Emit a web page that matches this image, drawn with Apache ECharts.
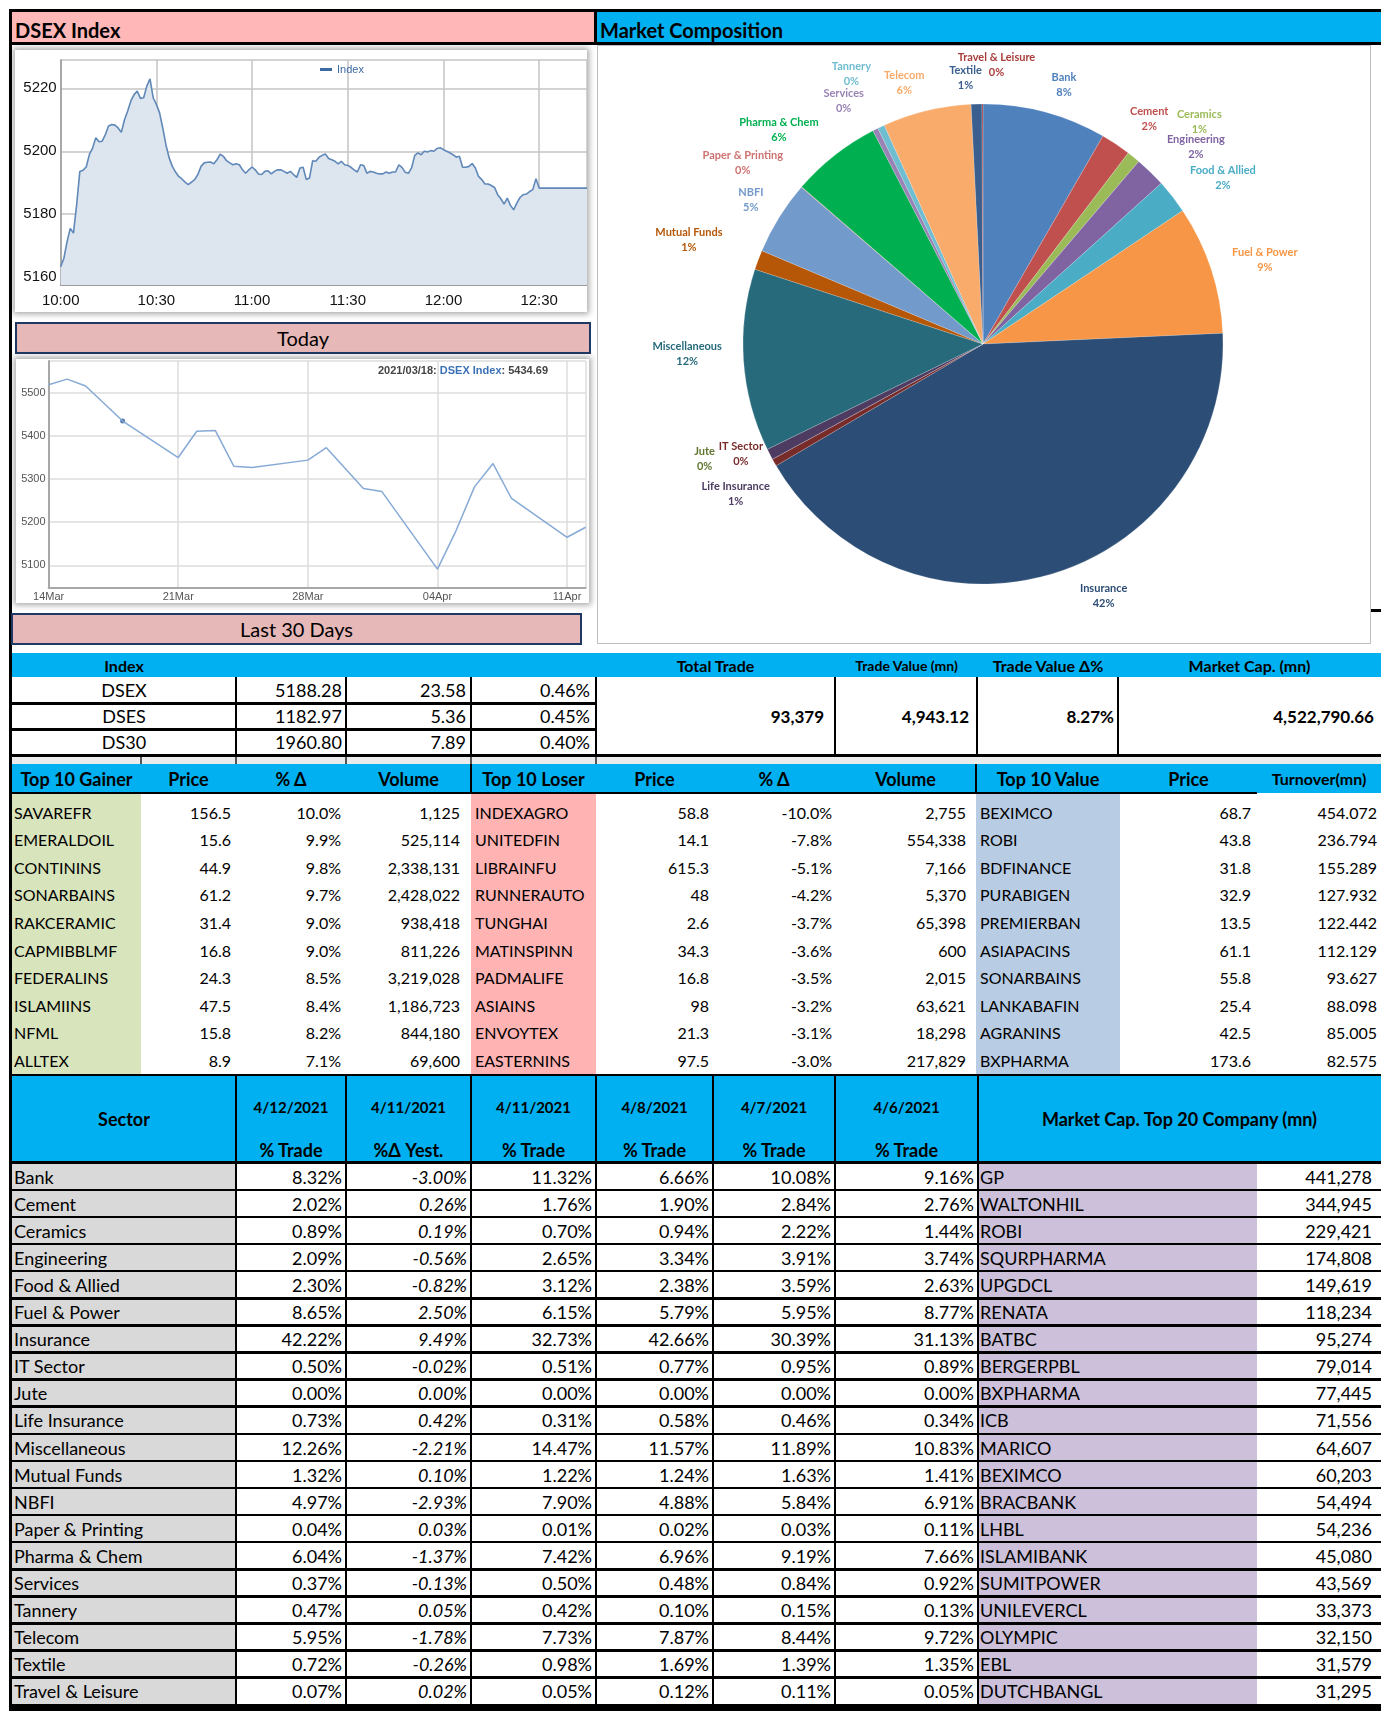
<!DOCTYPE html>
<html><head><meta charset="utf-8">
<script src="https://cdn.jsdelivr.net/npm/echarts@6/dist/echarts.min.js"></script>
<style>
html,body{margin:0;padding:0;background:#fff;}
body{width:1381px;height:1732px;position:relative;overflow:hidden;font-family:Lato,'Noto Sans',sans-serif;color:#000;}
.a{position:absolute;box-sizing:border-box;}
</style></head><body>
<script>
// ---------------- DATA ----------------
const intradayTimes = ["10:00","10:01","10:02","10:03","10:04","10:05","10:06","10:07","10:08","10:09",
"10:10","10:11","10:12","10:13","10:14","10:15","10:16","10:17","10:18","10:19",
"10:20","10:21","10:22","10:23","10:24","10:25","10:26","10:27","10:28","10:29",
"10:30","10:31","10:32","10:33","10:34","10:35","10:36","10:37","10:38","10:39",
"10:40","10:41","10:42","10:43","10:44","10:45","10:46","10:47","10:48","10:49",
"10:50","10:51","10:52","10:53","10:54","10:55","10:56","10:57","10:58","10:59",
"11:00","11:01","11:02","11:03","11:04","11:05","11:06","11:07","11:08","11:09",
"11:10","11:11","11:12","11:13","11:14","11:15","11:16","11:17","11:18","11:19",
"11:20","11:21","11:22","11:23","11:24","11:25","11:26","11:27","11:28","11:29",
"11:30","11:31","11:32","11:33","11:34","11:35","11:36","11:37","11:38","11:39",
"11:40","11:41","11:42","11:43","11:44","11:45","11:46","11:47","11:48","11:49",
"11:50","11:51","11:52","11:53","11:54","11:55","11:56","11:57","11:58","11:59",
"12:00","12:01","12:02","12:03","12:04","12:05","12:06","12:07","12:08","12:09",
"12:10","12:11","12:12","12:13","12:14","12:15","12:16","12:17","12:18","12:19",
"12:20","12:21","12:22","12:23","12:24","12:25","12:26","12:27","12:28","12:29",
"12:30","12:45"];
const intradayValues = [5163.3,5166,5171.3,5175.5,5174,5183,5193.6,5194,5195,5199,
5201,5204.3,5203,5203.2,5205.3,5208,5208.5,5208.3,5207.4,5206,
5210,5212.8,5216,5218,5219.1,5216.8,5217,5220.7,5223,5217,
5214.9,5212.2,5207.4,5202,5197.9,5195.2,5193.4,5192,5191.2,5190.2,
5189.4,5190.2,5191,5192.6,5195.2,5196.3,5196.5,5196.6,5196,5197.3,
5199.1,5198.4,5197,5196.3,5195.7,5196,5195.7,5194.1,5193,5194.1,
5195,5194.1,5192.8,5192.6,5193.6,5193.8,5192.8,5193.6,5194.1,5194.1,
5193.6,5193,5193.6,5192.6,5191.7,5194.7,5194.9,5191,5191.5,5197,
5196.8,5198.1,5198.7,5199.1,5197.7,5197.3,5196.8,5196,5196.8,5195.7,
5195.5,5194.9,5194.1,5193.4,5195.7,5195.5,5193,5193.6,5193.4,5193,
5192.8,5192.8,5193.4,5193,5193.4,5193.4,5195.7,5194.9,5193.3,5193,
5194.7,5198.7,5199.5,5198.9,5200,5199.8,5200.2,5200,5200.9,5201.1,
5200.5,5200,5199.5,5198.9,5198.1,5198.4,5194.9,5194.9,5195.2,5196.1,
5194.7,5192,5191,5189.6,5189.6,5189.1,5188.5,5186.2,5184.9,5183.2,
5185.1,5182.8,5181.4,5183.5,5185.3,5186.2,5186.4,5187.2,5187.8,5191.3,
5188.3,5188.3];
const intradayTickLabels = ["10:00","10:30","11:00","11:30","12:00","12:30"];

const monthDates = ["2021-03-14","2021-03-15","2021-03-16","2021-03-18","2021-03-21","2021-03-22","2021-03-23","2021-03-24","2021-03-25","2021-03-28","2021-03-29","2021-03-31","2021-04-01","2021-04-04","2021-04-05","2021-04-06","2021-04-07","2021-04-08","2021-04-11","2021-04-12"];
const monthValues = [5519,5532,5516,5434.69,5350,5411,5413,5330,5327,5344,5373,5278,5271,5091,5180,5282,5336,5255,5165,5188.28];
const monthTickLabels = ["14Mar","21Mar","28Mar","04Apr","11Apr"];
const monthHighlightIndex = 3;

const sectors = ["Bank","Cement","Ceramics","Engineering","Food & Allied","Fuel & Power","Insurance","IT Sector","Jute","Life Insurance","Miscellaneous","Mutual Funds","NBFI","Paper & Printing","Pharma & Chem","Services","Tannery","Telecom","Textile","Travel & Leisure"];
const trade0412 = [8.32,2.02,0.89,2.09,2.30,8.65,42.22,0.50,0.00,0.73,12.26,1.32,4.97,0.04,6.04,0.37,0.47,5.95,0.72,0.07];
const chgYest   = [-3.00,0.26,0.19,-0.56,-0.82,2.50,9.49,-0.02,0.00,0.42,-2.21,0.10,-2.93,0.03,-1.37,-0.13,0.05,-1.78,-0.26,0.02];
const trade0411 = [11.32,1.76,0.70,2.65,3.12,6.15,32.73,0.51,0.00,0.31,14.47,1.22,7.90,0.01,7.42,0.50,0.42,7.73,0.98,0.05];
const trade0408 = [6.66,1.90,0.94,3.34,2.38,5.79,42.66,0.77,0.00,0.58,11.57,1.24,4.88,0.02,6.96,0.48,0.10,7.87,1.69,0.12];
const trade0407 = [10.08,2.84,2.22,3.91,3.59,5.95,30.39,0.95,0.00,0.46,11.89,1.63,5.84,0.03,9.19,0.84,0.15,8.44,1.39,0.11];
const trade0406 = [9.16,2.76,1.44,3.74,2.63,8.77,31.13,0.89,0.00,0.34,10.83,1.41,6.91,0.11,7.66,0.92,0.13,9.72,1.35,0.05];
const sectorDates = ["4/12/2021","4/11/2021","4/11/2021","4/8/2021","4/7/2021","4/6/2021"];
const sectorSubHeads = ["% Trade","%\u0394 Yest.","% Trade","% Trade","% Trade","% Trade"];

const topCompanies = ["GP","WALTONHIL","ROBI","SQURPHARMA","UPGDCL","RENATA","BATBC","BERGERPBL","BXPHARMA","ICB","MARICO","BEXIMCO","BRACBANK","LHBL","ISLAMIBANK","SUMITPOWER","UNILEVERCL","OLYMPIC","EBL","DUTCHBANGL"];
const topCaps = [441278,344945,229421,174808,149619,118234,95274,79014,77445,71556,64607,60203,54494,54236,45080,43569,33373,32150,31579,31295];

const indexNames = ["DSEX","DSES","DS30"];
const indexValues = [5188.28,1182.97,1960.80];
const indexChanges = [23.58,5.36,7.89];
const indexChangePct = [0.46,0.45,0.40];
const totalTrade = 93379, tradeValue = 4943.12, tradeValueChg = 8.27, marketCap = 4522790.66;

const gainerNames = ["SAVAREFR","EMERALDOIL","CONTININS","SONARBAINS","RAKCERAMIC","CAPMIBBLMF","FEDERALINS","ISLAMIINS","NFML","ALLTEX"];
const gainerPrices = [156.5,15.6,44.9,61.2,31.4,16.8,24.3,47.5,15.8,8.9];
const gainerPct = [10.0,9.9,9.8,9.7,9.0,9.0,8.5,8.4,8.2,7.1];
const gainerVolumes = [1125,525114,2338131,2428022,938418,811226,3219028,1186723,844180,69600];
const loserNames = ["INDEXAGRO","UNITEDFIN","LIBRAINFU","RUNNERAUTO","TUNGHAI","MATINSPINN","PADMALIFE","ASIAINS","ENVOYTEX","EASTERNINS"];
const loserPrices = [58.8,14.1,615.3,48,2.6,34.3,16.8,98,21.3,97.5];
const loserPct = [-10.0,-7.8,-5.1,-4.2,-3.7,-3.6,-3.5,-3.2,-3.1,-3.0];
const loserVolumes = [2755,554338,7166,5370,65398,600,2015,63621,18298,217829];
const valueNames = ["BEXIMCO","ROBI","BDFINANCE","PURABIGEN","PREMIERBAN","ASIAPACINS","SONARBAINS","LANKABAFIN","AGRANINS","BXPHARMA"];
const valuePrices = [68.7,43.8,31.8,32.9,13.5,61.1,55.8,25.4,42.5,173.6];
const valueTurnover = [454.072,236.794,155.289,127.932,122.442,112.129,93.627,88.098,85.005,82.575];

// ---------------- LAYOUT HELPERS ----------------
function el(x,y,w,h,css,html){const d=document.createElement('div');d.className='a';d.style.cssText='left:'+x+'px;top:'+y+'px;width:'+w+'px;height:'+h+'px;'+(css||'');if(html!=null)d.innerHTML=html;document.body.appendChild(d);return d;}
function txt(x0,x1,y0,y1,t,align,css,pad){const p=pad==null?5:pad;const d=el(x0,y0,x1-x0,y1-y0,'display:flex;align-items:center;white-space:nowrap;justify-content:'+(align==='l'?'flex-start':align==='r'?'flex-end':'center')+';padding:0 '+(align==='c'?0:p)+'px;'+(css||''));d.textContent=t;return d;}
const fmtInt = v => v.toLocaleString('en-US');
const fmtPct2 = v => v.toFixed(2)+'%';
const BLUE='#00B0F0';

// ---------------- FRAME / HEADERS ----------------
el(12,12,582,31,'background:#FFB7B7;');
txt(12,594,12,44,'DSEX Index','l','font-weight:700;font-size:20px;align-items:flex-end;padding-bottom:2px;',3);
el(597,12,784,31,'background:'+BLUE+';');
txt(597,1381,12,44,'Market Composition','l','font-weight:700;font-size:20px;align-items:flex-end;padding-bottom:2px;',3);
el(9,9,1372,3,'background:#000;');
el(9,42,1372,3,'background:#000;');
el(594,9,3,36,'background:#000;');
el(9,9,3,1702,'background:#000;z-index:5;');
el(9,1706,1372,5,'background:#000;');

// chart panels
el(15,50,572,262,'background:#fff;box-shadow:0 0 6px 2px rgba(0,0,0,0.35);');
el(15,322,576,32,'background:#E6B8B7;border:2px solid #1F3864;');
txt(15,591,322,354,'Today','c','font-size:20px;');
el(16,359,573,244,'background:#fff;box-shadow:0 0 6px 2px rgba(0,0,0,0.35);');
el(11,613,571,32,'background:#E6B8B7;border:2px solid #1F3864;z-index:6;');
txt(11,582,613,645,'Last 30 Days','c','font-size:20px;z-index:7;');
el(597,45,774,599,'background:#fff;border:1.5px solid #bfbfbf;');
el(1371,609,10,3,'background:#000;');

const cIntra = el(15,50,572,262,'z-index:3;');
const cMonth = el(16,359,573,244,'z-index:3;');
const cPie = el(597,45,774,599,'z-index:3;');

// ---------------- INDEX TABLE ----------------
el(12,653,1369,24,'background:'+BLUE+';');
const hb='font-weight:700;font-size:16px;';
txt(12,236,653,677,'Index','c',hb);
txt(596,835,653,677,'Total Trade','c',hb);
txt(835,978,653,677,'Trade Value (mn)','c','font-weight:700;font-size:14px;');
txt(978,1118,653,677,'Trade Value \u0394%','c',hb);
txt(1118,1381,653,677,'Market Cap. (mn)','c',hb);
const iy=[677,703,729,755];
for(let i=0;i<3;i++){
  const f='font-size:18px;';
  txt(12,236,iy[i],iy[i+1],indexNames[i],'c',f);
  txt(236,346,iy[i],iy[i+1],indexValues[i].toFixed(2),'r',f,4);
  txt(346,471,iy[i],iy[i+1],indexChanges[i].toFixed(2),'r',f,5);
  txt(471,596,iy[i],iy[i+1],indexChangePct[i].toFixed(2)+'%','r',f,6);
}
const sb='font-weight:700;font-size:17px;';
txt(596,835,677,755,fmtInt(totalTrade),'r',sb,11);
txt(835,977,677,755,tradeValue.toLocaleString('en-US',{minimumFractionDigits:2}),'r',sb,8);
txt(977,1118,677,755,tradeValueChg.toFixed(2)+'%','r',sb,4);
txt(1118,1381,677,755,marketCap.toLocaleString('en-US',{minimumFractionDigits:2}),'r',sb,7);
[235,345,470,595].forEach(x=>el(x,677,2,80,'background:#000;'));
[834,976,1117].forEach(x=>el(x,677,2,78,'background:#000;'));
el(12,702,584,3,'background:#000;');
el(12,727.5,584,3,'background:#000;');
el(12,754,1369,3,'background:#000;');
el(12,757,1369,7,'background:#ececec;');
[140,235,345,470,595].forEach(x=>el(x,757,2,7,'background:#555;'));

// ---------------- TOP 10 TABLE ----------------
el(12,764,1369,29,'background:'+BLUE+';');
const tc=[12,141,236,346,471,596,713,835,976,1120,1257,1381];
const th=['Top 10 Gainer','Price','% \u0394','Volume','Top 10 Loser','Price','% \u0394','Volume','Top 10 Value','Price','Turnover(mn)'];
th.forEach((t,i)=>txt(tc[i],tc[i+1],764,793,t,'c','font-weight:700;font-size:'+(i===10?16:18)+'px;'));
el(470,764,2,30,'background:#000;');
el(975,764,2,30,'background:#000;');
el(12,792,1245,2,'background:#000;');
const ry=[794,826];
for(let i=1;i<10;i++) ry.push(826+i*27.6);
el(12,794,129,281,'background:#D8E4BC;');
el(471,794,125,281,'background:#FFB3B3;');
el(976,794,144,281,'background:#B8CCE4;');
for(let i=0;i<10;i++){
  const y0=ry[i]+(i===0?4:0), y1=ry[i+1], f='font-size:16px;';
  txt(tc[0],tc[1],y0,y1,gainerNames[i],'l',f,2);
  txt(tc[1],tc[2],y0,y1,gainerPrices[i].toFixed(1),'r',f,5);
  txt(tc[2],tc[3],y0,y1,gainerPct[i].toFixed(1)+'%','r',f,5);
  txt(tc[3],tc[4],y0,y1,fmtInt(gainerVolumes[i]),'r',f,11);
  txt(tc[4],tc[5],y0,y1,loserNames[i],'l',f,4);
  txt(tc[5],tc[6],y0,y1,String(loserPrices[i]),'r',f,4);
  txt(tc[6],tc[7],y0,y1,loserPct[i].toFixed(1)+'%','r',f,3);
  txt(tc[7],tc[8],y0,y1,fmtInt(loserVolumes[i]),'r',f,10);
  txt(tc[8],tc[9],y0,y1,valueNames[i],'l',f,4);
  txt(tc[9],tc[10],y0,y1,valuePrices[i].toFixed(1),'r',f,6);
  txt(tc[10],tc[11],y0,y1,valueTurnover[i].toFixed(3),'r',f,4);
}

// ---------------- SECTOR TABLE ----------------
el(12,1074,1369,2,'background:#000;');
el(12,1076,1369,86,'background:'+BLUE+';');
const sc=[12,236,346,471,596,713,835,978,1257,1381];
txt(12,236,1076,1162,'Sector','c','font-weight:700;font-size:18px;');
for(let j=0;j<6;j++){
  txt(sc[j+1],sc[j+2],1092,1122,sectorDates[j],'c','font-weight:700;font-size:15px;');
  txt(sc[j+1],sc[j+2],1137,1162,sectorSubHeads[j],'c','font-weight:700;font-size:18px;');
}
txt(978,1381,1076,1162,'Market Cap. Top 20 Company (mn)','c','font-weight:700;font-size:18px;');
[235,345,470,595,712,834,977].forEach(x=>el(x,1076,2,88,'background:#000;'));
el(12,1161,1369,3,'background:#000;');
const RH=27.1;
el(12,1164,224,542,'background:#D9D9D9;');
el(978,1164,279,542,'background:#CCC0DA;');
const cols=[trade0412,chgYest,trade0411,trade0408,trade0407,trade0406];
for(let i=0;i<20;i++){
  const y0=1164+i*RH, y1=y0+RH-2, f='font-size:18px;';
  txt(12,236,y0,y1,sectors[i],'l',f,2);
  for(let j=0;j<6;j++){
    txt(sc[j+1],sc[j+2],y0,y1,fmtPct2(cols[j][i]),'r',f+(j===1?'font-style:italic;':''),4);
  }
  txt(978,1257,y0,y1,topCompanies[i],'l',f,2);
  txt(1257,1381,y0,y1,fmtInt(topCaps[i]),'r',f,9);
  el(12,y0+RH-2.5,1369,2.5,'background:#000;');
}
[235,345,470,595,712,834,977].forEach(x=>el(x,1164,2,542,'background:#000;'));

// ---------------- CHARTS ----------------
const toMin = s => { const p=s.split(':'); return (+p[0])*60+(+p[1]); };
const intraData = intradayTimes.map((t,i)=>[toMin(t), intradayValues[i]]);
const tickMap = {}; intradayTickLabels.forEach(l=>tickMap[toMin(l)]=l);
const chartIntra = echarts.init(cIntra,null,{renderer:'canvas'});
chartIntra.setOption({
  animation:false,
  grid:{left:45.7,top:10,width:540,height:225},
  legend:{data:['Index'],top:9,left:300,itemWidth:12,itemHeight:3,icon:'rect',itemGap:4,
    textStyle:{fontSize:11,color:'#3d6aa3',fontFamily:'Liberation Sans'}},
  xAxis:{type:'value',min:toMin(intradayTickLabels[0]),max:toMin(intradayTimes[intradayTimes.length-1]),interval:30,
    axisLine:{show:true,lineStyle:{color:'#9a9a9a',width:2}},axisTick:{show:false},
    axisLabel:{formatter:v=>tickMap[v]||'',fontSize:15,color:'#111',fontFamily:'Liberation Sans',margin:8,showMaxLabel:false},
    splitLine:{show:true,lineStyle:{color:'#c4c4c4',width:1.5}}},
  yAxis:{type:'value',min:5157.5,max:5229,splitNumber:4,
    axisLine:{show:true,lineStyle:{color:'#9a9a9a',width:1.5}},axisTick:{show:false},
    axisLabel:{formatter:v=>String(v),fontSize:15,color:'#111',fontFamily:'Liberation Sans',margin:4,showMinLabel:false,showMaxLabel:false},
    splitLine:{show:true,lineStyle:{color:'#c4c4c4',width:1.5}}},
  series:[{name:'Index',type:'line',data:intraData,showSymbol:false,
    lineStyle:{color:'#6088b8',width:1.6},itemStyle:{color:'#3d6aa3'},
    areaStyle:{color:'#dde5ef',opacity:1}}]
});

const day0 = Date.UTC(2021,2,14);
const toDay = s => { const p=s.split('-'); return Math.round((Date.UTC(+p[0],+p[1]-1,+p[2])-day0)/86400000); };
const monthData = monthDates.map((d,i)=>[toDay(d), monthValues[i]]);
const hi = monthHighlightIndex;
const hiLabel = monthDates[hi].replace(/-/g,'/');
const chartMonth = echarts.init(cMonth,null,{renderer:'canvas'});
chartMonth.setOption({
  animation:false,
  title:{text:'{a|'+hiLabel+': }{b|DSEX Index}{a|: '+monthValues[hi].toFixed(2)+'}',right:36,top:1,
    textStyle:{rich:{a:{fontSize:11,color:'#444',fontFamily:'Liberation Sans'},b:{fontSize:11,color:'#3a70b5',fontWeight:'bold',fontFamily:'Liberation Sans'}}}},
  grid:{left:32.6,top:2,width:537,height:226.7},
  xAxis:{type:'value',min:0,max:toDay(monthDates[monthDates.length-1]),interval:7,
    axisLine:{show:true,lineStyle:{color:'#a8a8a8',width:2}},axisTick:{show:false},
    axisLabel:{formatter:v=>(v%7===0&&monthTickLabels[v/7])?monthTickLabels[v/7]:'',fontSize:11,color:'#555',fontFamily:'Liberation Sans',margin:4,showMaxLabel:false},
    splitLine:{show:true,lineStyle:{color:'#dcdcdc',width:1.5}}},
  yAxis:{type:'value',min:5048,max:5574,splitNumber:5,
    axisLine:{show:true,lineStyle:{color:'#a8a8a8',width:2}},axisTick:{show:false},
    axisLabel:{formatter:v=>String(v),fontSize:11,color:'#555',fontFamily:'Liberation Sans',margin:3,showMinLabel:false,showMaxLabel:false},
    splitLine:{show:true,lineStyle:{color:'#dcdcdc',width:1.5}}},
  series:[
    {type:'line',data:monthData,showSymbol:false,lineStyle:{color:'#86aad5',width:1.5}},
    {type:'scatter',data:[monthData[hi]],symbol:'circle',symbolSize:5,itemStyle:{color:'#2b5797'}}
  ]
});

// pie
const pieColors = ['#4F81BD','#C0504D','#9BBB59','#8064A2','#4BACC6','#F79646','#2C4D75','#772C2A','#5F7530','#4D3B62','#276A7C','#B65708','#729ACA','#CD7371','#00B050','#9983B5','#6FBDD1','#F9AB6B','#3A5F8F','#A83E3B'];
// label placement (angle offset in degrees, distance beyond the rim in px), Excel-like best-fit
const labelPlacement = [[2.4,31],[2.8,40],[5.4,70],[3,50],[3.1,52],[1.6,54],[-9.1,39],[5.1,26],[6.3,61],[-3.8,49],[2.1,56],[-1,72],[-0.1,33],[-3.8,61],[-5.4,56],[-3.2,40],[-0.9,60],[-3.2,33],[-2.2,27],[2.9,39]];
const PIE_C=[386,299], PIE_R=240;
const pieTotal = trade0412.reduce((a,b)=>a+b,0);
const cum=[]; trade0412.reduce((a,b,i)=>{cum[i]=a;return a+b;},0);
const pieData = sectors.map((s,i)=>({name:s,value:trade0412[i],itemStyle:{color:pieColors[i]},label:{color:pieColors[i]}}));
const chartPie = echarts.init(cPie,null,{renderer:'canvas'});
chartPie.setOption({
  animation:false,
  series:[{type:'pie',center:PIE_C,radius:PIE_R,startAngle:90,clockwise:true,
    data:pieData,avoidLabelOverlap:false,
    itemStyle:{borderColor:'rgba(255,255,255,0.35)',borderWidth:0.5},
    label:{show:true,position:'outside',fontSize:11,fontWeight:'bold',lineHeight:15,align:'center',fontFamily:'Lato',
      formatter:p=>p.name+'\n'+Math.round(p.value/pieTotal*100-0.001)+'%'},
    labelLine:{show:false,length:14,length2:6},
    labelLayout:function(p){
      const i=p.dataIndex, pl=labelPlacement[i];
      const a=((cum[i]+trade0412[i]/2)/pieTotal*360+pl[0])*Math.PI/180;
      const d=PIE_R+pl[1];
      return {x:PIE_C[0]+d*Math.sin(a), y:PIE_C[1]-d*Math.cos(a), align:'center', verticalAlign:'middle'};
    },
    emphasis:{disabled:true}
  }]
});
</script>
</body></html>
